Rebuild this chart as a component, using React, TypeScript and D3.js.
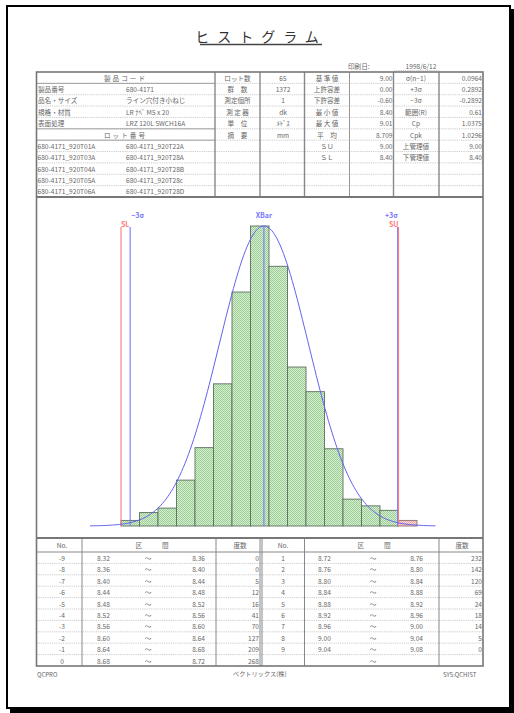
import React from 'react';
import * as d3 from 'd3';

// ---- header information ----
const productLabels = ['製品番号', '品名・サイズ', '規格・材質', '表面処理'];
const productValues = ['680-4171', 'ライン穴付き小ねじ', 'LR ﾅﾍﾞ M5 x 20', 'LRZ 120L SWCH16A'];
const lotLeft = ['680-4171_920T01A', '680-4171_920T03A', '680-4171_920T04A', '680-4171_920T05A', '680-4171_920T06A'];
const lotRight = ['680-4171_920T22A', '680-4171_920T28A', '680-4171_920T28B', '680-4171_920T28c', '680-4171_920T28D'];
const condLabels = ['ロット数', '群　数', '測定個所', '測 定 器', '単　位', '摘　要'];
const condValues = ['65', '1372', '1', 'dk', 'ﾒﾄﾞｽ', 'mm'];
const statLabels = ['基 準 値', '上許容差', '下許容差', '最 小 値', '最 大 値', '平　均', 'ＳＵ', 'ＳＬ'];
const statValues = ['9.00', '0.00', '-0.60', '8.40', '9.01', '8.709', '9.00', '8.40'];
const sigmaLabels = ['σ(n−1)', '+3σ', '−3σ', '範囲(R)', 'Cp', 'Cpk', '上管理値', '下管理値'];
const sigmaValues = ['0.0964', '0.2892', '-0.2892', '0.61', '1.0375', '1.0296', '9.00', '8.40'];
const printDate = '1998/6/12';

// ---- frequency distribution ----
const binNo = [-9, -8, -7, -6, -5, -4, -3, -2, -1, 0, 1, 2, 3, 4, 5, 6, 7, 8, 9];
const binLower = [8.32, 8.36, 8.40, 8.44, 8.48, 8.52, 8.56, 8.60, 8.64, 8.68, 8.72, 8.76, 8.80, 8.84, 8.88, 8.92, 8.96, 9.00, 9.04];
const binUpper = [8.36, 8.40, 8.44, 8.48, 8.52, 8.56, 8.60, 8.64, 8.68, 8.72, 8.76, 8.80, 8.84, 8.88, 8.92, 8.96, 9.00, 9.04, 9.08];
const binCounts = [0, 0, 5, 12, 16, 41, 70, 127, 209, 268, 232, 142, 120, 69, 24, 18, 14, 5, 0];

// ---- process statistics ----
const mean = 8.709;
const sigma = 0.0964;
const specLow = 8.40;
const specHigh = 9.00;
const curveFrom = 8.333;
const curveTo = 9.08;

const FONT = "'Noto Sans CJK JP', 'Noto Sans', sans-serif";
const TXT = '#666';

export default function App() {
  const L = 36.5, R = 483;
  const top = 72;
  const rowH = 125 / 11;
  const hdrBottom = 197;
  const histBottom = 538;
  const tblBottom = 666;

  // column edges of the header grid
  const cx = [L, 215, 260, 304.5, 349.5, 393.5, 439, R];

  const x = d3.scaleLinear().domain([specLow, specHigh]).range([121, 398.5]);
  const y = d3.scaleLinear().domain([0, d3.max(binCounts) as number]).range([526, 226]);
  const peak = d3.max(binCounts) as number;

  const curvePts = d3.range(0, 201).map(i => {
    const v = curveFrom + (curveTo - curveFrom) * i / 200;
    const z = (v - mean) / sigma;
    return [v, peak * Math.exp(-z * z / 2)] as [number, number];
  });
  const curve = d3.line<[number, number]>().x(d => x(d[0])).y(d => y(d[1]))(curvePts) || '';

  const rowY = (i: number) => top + rowH * i;
  const base = (i: number) => rowY(i) + rowH - 2.6;

  const fs = 6.6;
  const t = (props: any, s: string, key?: any) => (
    <text key={key} fontFamily={FONT} fontSize={fs} fill={TXT} {...props}>{s}</text>
  );

  // frequency table geometry
  const fTop = histBottom;
  const fHead = 14;
  const fRow = (tblBottom - fTop - fHead) / 10;
  const fY = (i: number) => fTop + fHead + fRow * i;
  const leftBins = binNo.map((n, i) => i).filter(i => binNo[i] <= 0);
  const rightBins = binNo.map((n, i) => i).filter(i => binNo[i] > 0);

  const dotted = { stroke: '#b5b5b5', strokeWidth: 0.7, strokeDasharray: '1.2,1' };

  const sigLines = [
    { v: specLow, color: '#ff7a7a', label: 'SL', anchor: 'start', ly: 226.5 },
    { v: mean - 3 * sigma, color: '#7777ff', label: '−3σ', anchor: 'start', ly: 217.5, dx: 1 },
    { v: mean, color: '#7777ff', label: 'XBar', anchor: 'middle', ly: 217.5 },
    { v: mean + 3 * sigma, color: '#7777ff', label: '+3σ', anchor: 'end', ly: 217.5 },
    { v: specHigh, color: '#ff7a7a', label: 'SU', anchor: 'end', ly: 226.5 },
  ];

  return (
    <svg width={514} height={713} style={{ position: 'absolute', left: 0, top: 0, background: '#fff' }}>
      <defs>
        <pattern id="hatchG" width="2" height="2" patternUnits="userSpaceOnUse">
          <rect width="2" height="2" fill="#d6eed2" />
          <rect width="1" height="1" fill="#9ccd94" />
          <rect x="1" y="1" width="1" height="1" fill="#9ccd94" />
        </pattern>
        <pattern id="hatchR" width="2" height="2" patternUnits="userSpaceOnUse">
          <rect width="2" height="2" fill="#fadada" />
          <rect width="1" height="1" fill="#f0a6a6" />
          <rect x="1" y="1" width="1" height="1" fill="#f0a6a6" />
        </pattern>
      </defs>

      {/* page with drop shadow */}
      <rect x={10} y={9} width={504} height={704} fill="#000" />
      <rect x={7} y={6} width={503} height={702} fill="#fff" stroke="#000" strokeWidth={2} />

      {/* title */}
      <text x={261} y={42} textAnchor="middle" fontFamily={FONT} fontSize={14} fill="#333" letterSpacing={8}>ヒストグラム</text>
      <line x1={200} x2={322} y1={44.5} y2={44.5} stroke="#444" strokeWidth={1.6} />

      {/* print date */}
      {t({ x: 348, y: 69 }, '印刷日:')}
      {t({ x: 421, y: 69, textAnchor: 'middle' }, printDate)}
      <line x1={394} x2={440} y1={70.5} y2={70.5} {...dotted} />

      {/* ---------- header grid ---------- */}
      {d3.range(1, 11).map(i => (
        <line key={'hd' + i} x1={L} x2={R} y1={rowY(i)} y2={rowY(i)} {...dotted} />
      ))}
      {[1, 5, 6].map(i => (
        <line key={'hs' + i} x1={L} x2={215} y1={rowY(i)} y2={rowY(i)} stroke="#999" strokeWidth={0.9} />
      ))}
      {cx.slice(1, -1).map((c, i) => (
        <line key={'vc' + i} x1={c} x2={c} y1={top} y2={hdrBottom} stroke="#888" strokeWidth={i === 3 ? 0.9 : 1.4} />
      ))}

      {t({ x: 125.5, y: base(0), textAnchor: 'middle', letterSpacing: 2 }, '製品コード')}
      {productLabels.map((s, i) => t({ x: 38, y: base(i + 1) }, s, 'pl' + i))}
      {productValues.map((s, i) => t({ x: 126, y: base(i + 1) }, s, 'pv' + i))}
      {t({ x: 125.5, y: base(5), textAnchor: 'middle', letterSpacing: 2 }, 'ロット番号')}
      {lotLeft.map((s, i) => t({ x: 37.5, y: base(i + 6) }, s, 'll' + i))}
      {lotRight.map((s, i) => t({ x: 126, y: base(i + 6) }, s, 'lr' + i))}

      {condLabels.map((s, i) => t({ x: 237.5, y: base(i), textAnchor: 'middle' }, s, 'cl' + i))}
      {condValues.map((s, i) => t({ x: 283, y: base(i), textAnchor: 'middle' }, s, 'cv' + i))}
      {statLabels.map((s, i) => t({ x: 327, y: base(i), textAnchor: 'middle' }, s, 'sl' + i))}
      {statValues.map((s, i) => t({ x: 392.5, y: base(i), textAnchor: 'end' }, s, 'sv' + i))}
      {sigmaLabels.map((s, i) => t({ x: 416, y: base(i), textAnchor: 'middle' }, s, 'gl' + i))}
      {sigmaValues.map((s, i) => t({ x: 482, y: base(i), textAnchor: 'end' }, s, 'gv' + i))}

      {/* ---------- histogram ---------- */}
      {binCounts.map((c, i) => c > 0 && (
        <rect key={'b' + i}
          x={x(binLower[i])} y={y(c)}
          width={x(binUpper[i]) - x(binLower[i])} height={y(0) - y(c)}
          fill={binLower[i] >= specHigh ? 'url(#hatchR)' : 'url(#hatchG)'}
          stroke={binLower[i] >= specHigh ? '#8a7070' : '#5f6f5f'} strokeWidth={0.9} />
      ))}
      {sigLines.map((s, i) => (
        <g key={'sg' + i}>
          <line x1={x(s.v)} x2={x(s.v)} y1={227} y2={526} stroke={s.color} strokeWidth={1.1} />
          <text x={x(s.v) + (s.dx || 0)} y={s.ly} textAnchor={s.anchor as any} fontFamily={FONT}
            fontSize={7} fontWeight="bold" fill={s.color}>{s.label}</text>
        </g>
      ))}
      <path d={curve} fill="none" stroke="#6262f0" strokeWidth={1} />

      {/* ---------- frequency table ---------- */}
      {d3.range(1, 10).map(i => (
        <line key={'fd' + i} x1={L} x2={R} y1={fY(i)} y2={fY(i)} {...dotted} />
      ))}
      <line x1={L} x2={R} y1={fTop + fHead} y2={fTop + fHead} stroke="#888" strokeWidth={1} />
      {[82, 216, 304.5, 439].map((c, i) => (
        <line key={'fv' + i} x1={c} x2={c} y1={fTop} y2={tblBottom} stroke="#888" strokeWidth={1} />
      ))}
      <line x1={260} x2={260} y1={fTop} y2={tblBottom} stroke="#888" strokeWidth={1} />
      <line x1={262} x2={262} y1={fTop} y2={tblBottom} stroke="#888" strokeWidth={1} />

      {[[62, 152, 240], [283, 374, 462]].map((c, k) => (
        <g key={'fh' + k}>
          {t({ x: c[0], y: fTop + 10, textAnchor: 'middle' }, 'No.')}
          {t({ x: c[1], y: fTop + 10, textAnchor: 'middle', letterSpacing: 0 }, '区　　　間')}
          {t({ x: c[2], y: fTop + 10, textAnchor: 'middle' }, '度数')}
        </g>
      ))}
      {leftBins.map((b, r) => (
        <g key={'lr' + r}>
          {t({ x: 62, y: fY(r) + fRow - 2.4, textAnchor: 'middle' }, String(binNo[b]))}
          {t({ x: 97, y: fY(r) + fRow - 2.4 }, binLower[b].toFixed(2))}
          {t({ x: 148, y: fY(r) + fRow - 2.4, textAnchor: 'middle' }, '～')}
          {t({ x: 205, y: fY(r) + fRow - 2.4, textAnchor: 'end' }, binUpper[b].toFixed(2))}
          {t({ x: 259, y: fY(r) + fRow - 2.4, textAnchor: 'end' }, String(binCounts[b]))}
        </g>
      ))}
      {rightBins.map((b, r) => (
        <g key={'rr' + r}>
          {t({ x: 283, y: fY(r) + fRow - 2.4, textAnchor: 'middle' }, String(binNo[b]))}
          {t({ x: 318, y: fY(r) + fRow - 2.4 }, binLower[b].toFixed(2))}
          {t({ x: 373, y: fY(r) + fRow - 2.4, textAnchor: 'middle' }, '～')}
          {t({ x: 423, y: fY(r) + fRow - 2.4, textAnchor: 'end' }, binUpper[b].toFixed(2))}
          {t({ x: 482, y: fY(r) + fRow - 2.4, textAnchor: 'end' }, String(binCounts[b]))}
        </g>
      ))}
      {t({ x: 373, y: fY(9) + fRow - 2.4, textAnchor: 'middle' }, '～')}

      {/* outer box and section separators */}
      <rect x={L} y={top} width={R - L} height={tblBottom - top} fill="none" stroke="#777" strokeWidth={1.6} />
      <line x1={L} x2={R} y1={hdrBottom} y2={hdrBottom} stroke="#777" strokeWidth={2} />
      <line x1={L} x2={R} y1={histBottom} y2={histBottom} stroke="#777" strokeWidth={2} />

      {/* footer */}
      {t({ x: 37, y: 677, fontSize: 6 }, 'QCPRO')}
      {t({ x: 233, y: 676, fontSize: 6.2 }, 'ベクトリックス(株)')}
      {t({ x: 443, y: 677, fontSize: 6 }, 'SYS:QCHIST')}
    </svg>
  );
}
